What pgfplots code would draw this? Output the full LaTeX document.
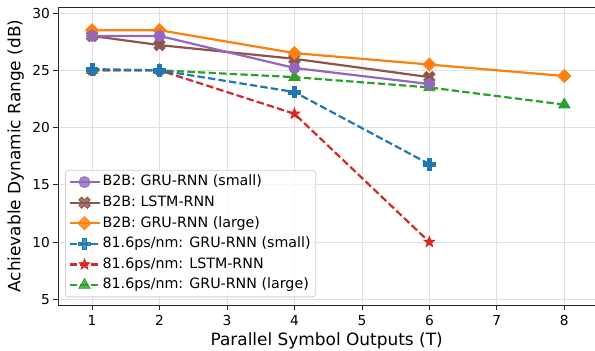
\documentclass[border=0pt]{standalone}
\usepackage{fontspec}
\setmainfont{DejaVu Sans}
\usepackage{pgfplots}
\pgfplotsset{compat=1.18}
\definecolor{tblue}{HTML}{1F77B4}
\definecolor{torange}{HTML}{FF7F0E}
\definecolor{tgreen}{HTML}{2CA02C}
\definecolor{tred}{HTML}{D62728}
\definecolor{tpurple}{HTML}{9467BD}
\definecolor{tbrown}{HTML}{8C564B}
\pgfdeclareplotmark{fstar}{%
  \pgfpathmoveto{\pgfqpointpolar{90}{\pgfplotmarksize}}%
  \pgfpathlineto{\pgfqpointpolar{126}{0.42\pgfplotmarksize}}%
  \pgfpathlineto{\pgfqpointpolar{162}{\pgfplotmarksize}}%
  \pgfpathlineto{\pgfqpointpolar{198}{0.42\pgfplotmarksize}}%
  \pgfpathlineto{\pgfqpointpolar{234}{\pgfplotmarksize}}%
  \pgfpathlineto{\pgfqpointpolar{270}{0.42\pgfplotmarksize}}%
  \pgfpathlineto{\pgfqpointpolar{306}{\pgfplotmarksize}}%
  \pgfpathlineto{\pgfqpointpolar{342}{0.42\pgfplotmarksize}}%
  \pgfpathlineto{\pgfqpointpolar{18}{\pgfplotmarksize}}%
  \pgfpathlineto{\pgfqpointpolar{54}{0.42\pgfplotmarksize}}%
  \pgfpathclose
  \pgfusepathqfillstroke}
\pgfdeclareplotmark{fplus}{%
  \pgfpathmoveto{\pgfqpoint{-0.333\pgfplotmarksize}{-\pgfplotmarksize}}%
  \pgfpathlineto{\pgfqpoint{0.333\pgfplotmarksize}{-\pgfplotmarksize}}%
  \pgfpathlineto{\pgfqpoint{0.333\pgfplotmarksize}{-0.333\pgfplotmarksize}}%
  \pgfpathlineto{\pgfqpoint{\pgfplotmarksize}{-0.333\pgfplotmarksize}}%
  \pgfpathlineto{\pgfqpoint{\pgfplotmarksize}{0.333\pgfplotmarksize}}%
  \pgfpathlineto{\pgfqpoint{0.333\pgfplotmarksize}{0.333\pgfplotmarksize}}%
  \pgfpathlineto{\pgfqpoint{0.333\pgfplotmarksize}{\pgfplotmarksize}}%
  \pgfpathlineto{\pgfqpoint{-0.333\pgfplotmarksize}{\pgfplotmarksize}}%
  \pgfpathlineto{\pgfqpoint{-0.333\pgfplotmarksize}{0.333\pgfplotmarksize}}%
  \pgfpathlineto{\pgfqpoint{-\pgfplotmarksize}{0.333\pgfplotmarksize}}%
  \pgfpathlineto{\pgfqpoint{-\pgfplotmarksize}{-0.333\pgfplotmarksize}}%
  \pgfpathlineto{\pgfqpoint{-0.333\pgfplotmarksize}{-0.333\pgfplotmarksize}}%
  \pgfpathclose
  \pgfusepathqfillstroke}
\pgfplotsset{
  sPurple/.style={color=tpurple, solid, line width=2.2bp, mark=*, mark size=5.5bp, mark options={solid, line width=0.8bp, fill=tpurple}},
  sBrown/.style={color=tbrown, solid, line width=2.2bp, mark=fplus, mark size=6bp, mark options={solid, rotate=45, line width=0.8bp, fill=tbrown}},
  sOrange/.style={color=torange, solid, line width=2.2bp, mark=square*, mark size=4.6bp, mark options={solid, rotate=45, line width=0.8bp, fill=torange}},
  sBlue/.style={color=tblue, line width=2.2bp, dash pattern=on 7.4bp off 3.2bp, mark=fplus, mark size=5.8bp, mark options={solid, line width=0.8bp, fill=tblue}},
  sRed/.style={color=tred, line width=2.2bp, dash pattern=on 7.4bp off 3.2bp, mark=fstar, mark size=5.6bp, mark options={solid, line width=0.8bp, fill=tred}},
  sGreen/.style={color=tgreen, line width=2.2bp, dash pattern=on 7.4bp off 3.2bp, mark=triangle*, mark size=6.5bp, mark options={solid, line width=0.8bp, fill=tgreen}},
}
\begin{document}
\begin{tikzpicture}
\begin{axis}[
  name=ax, at={(0,0)}, anchor=south west,
  scale only axis, width=536.7bp, height=297.7bp,
  xmin=0.5, xmax=8.455, ymin=4.5, ymax=30.5,
  xtick={1,2,3,4,5,6,7,8}, ytick={5,10,15,20,25,30},
  axis line style={draw=none},
  xtick pos=bottom, ytick pos=left, tick align=outside,
  major tick length=5bp,
  tick style={black!85, line width=0.8bp},
  grid=major, grid style={black!12, line width=0.8bp},
  tick label style={font=\fontsize{13.8}{16}\selectfont},
  /pgf/number format/assume math mode=true,
  xticklabel style={anchor=base, yshift=-15bp},
  yticklabel style={anchor=east},
  xlabel={Parallel Symbol Outputs (T)},
  ylabel={Achievable Dynamic Range (dB)},
  label style={font=\fontsize{17}{20}\selectfont},
  xlabel style={at={(axis description cs:0.5,-0.1367)}, anchor=base},
  ylabel style={at={(axis description cs:-0.0795,0.5)}, anchor=center, rotate=0},
  legend cell align=left,
  legend style={at={(axis description cs:0.0125,0.0259)}, anchor=south west,
    draw=black!18, line width=0.8bp, rounded corners=3bp, fill=white, fill opacity=0.8, text opacity=1,
    font=\fontsize{14.3}{17}\selectfont, row sep=3bp, inner xsep=3bp, inner ysep=3bp,
    nodes={inner sep=2bp, text height=10.6bp, text depth=3bp}},
  legend image code/.code={\draw[mark repeat=2, mark phase=2] plot coordinates {(0bp,0bp) (15bp,0bp) (30bp,0bp)};},
]
% draw order (z-order)
\addplot[sGreen, forget plot] coordinates {(1,25.0) (2,25.0) (4,24.4) (6,23.5) (8,22.0)};
\addplot[sRed, forget plot] coordinates {(1,25.0) (2,25.0) (4,21.2) (6,10.0)};
\addplot[sBrown, forget plot] coordinates {(1,28.0) (2,27.2) (4,26.0) (6,24.4)};
\addplot[sOrange, forget plot] coordinates {(1,28.5) (2,28.5) (4,26.5) (6,25.5) (8,24.5)};
\addplot[sBlue, forget plot] coordinates {(1,25.1) (2,25.0) (4,23.1) (6,16.8)};
\addplot[sPurple, forget plot] coordinates {(1,28.0) (2,28.0) (4,25.2) (6,23.8)};
% legend in the reference's order
\addlegendimage{sPurple}
\addlegendentry{B2B: GRU-RNN (small)}
\addlegendimage{sBrown}
\addlegendentry{B2B: LSTM-RNN}
\addlegendimage{sOrange}
\addlegendentry{B2B: GRU-RNN (large)}
\addlegendimage{sBlue}
\addlegendentry{81.6ps/nm: GRU-RNN (small)}
\addlegendimage{sRed}
\addlegendentry{81.6ps/nm: LSTM-RNN}
\addlegendimage{sGreen}
\addlegendentry{81.6ps/nm: GRU-RNN (large)}
\end{axis}
\draw[black!85, line width=0.8bp] (ax.north east) -- (ax.north west) -- (ax.south west) -- (ax.south east);
\pgfresetboundingbox
\path ([shift={(-58.3bp,-46bp)}]ax.south west) rectangle ([shift={(0bp,7.3bp)}]ax.north east);
\end{tikzpicture}
\end{document}
